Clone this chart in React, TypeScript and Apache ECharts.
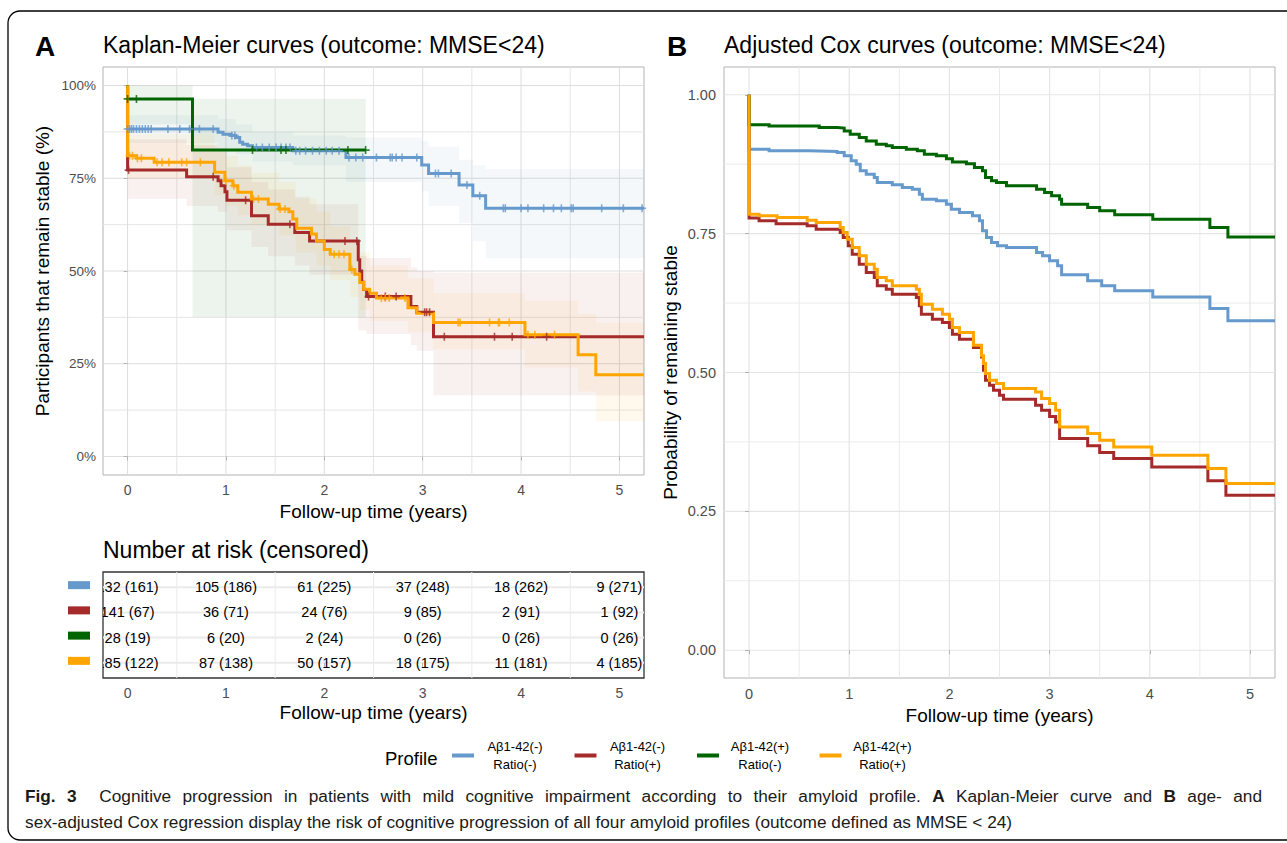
import React, { useEffect, useRef } from "react";
import * as echarts from "echarts";

const FONT = "'Liberation Sans', Arial, Helvetica, sans-serif";

// ---------- categories ----------
const profileNames = ["Aβ1-42(-) Ratio(-)", "Aβ1-42(-) Ratio(+)", "Aβ1-42(+) Ratio(-)", "Aβ1-42(+) Ratio(+)"];
const profileColors = ["#6699CC", "#A52A2A", "#006400", "#FFA500"];

// ---------- tick values ----------
const yearTicks = [0, 1, 2, 3, 4, 5];
const yearMinor = [0.5, 1.5, 2.5, 3.5, 4.5];
const kmPctTicks = [0, 25, 50, 75, 100];
const kmPctMinor = [12.5, 37.5, 62.5, 87.5];
const coxTicks = [0, 0.25, 0.5, 0.75, 1];
const coxMinor = [0.125, 0.375, 0.625, 0.875];

// ---------- Panel A: Kaplan-Meier survival (%) [time, percent] ----------
const kmBlue = [[0, 100], [0, 88.3], [0.92, 87.4], [0.97, 86.9], [1.05, 86.5], [1.1, 86.0], [1.14, 84.7], [1.17, 84.2], [1.22, 83.8], [1.27, 83.3], [1.68, 82.4], [2.22, 80.6], [2.99, 78.6], [3.06, 76.3], [3.37, 73.2], [3.51, 70.3], [3.64, 66.9], [5.25, 66.9]];
const kmRed = [[0, 100], [0, 77.2], [0.6, 75.4], [0.92, 74.3], [0.95, 73.0], [0.99, 71.4], [1.01, 69.1], [1.26, 64.9], [1.43, 62.6], [1.7, 60.4], [1.85, 58.1], [2.345, 53.0], [2.36, 50.0], [2.38, 47.0], [2.4, 45.0], [2.43, 43.1], [2.88, 40.4], [2.94, 38.9], [3.11, 32.3], [5.25, 32.3]];
const kmGreen = [[0, 100], [0, 96.4], [0.66, 82.6], [2.42, 82.6]];
const kmOrange = [[0, 100], [0, 81.1], [0.09, 80.4], [0.27, 79.3], [0.885, 76.6], [0.99, 74.3], [1.07, 73.0], [1.12, 71.2], [1.26, 69.4], [1.43, 68.0], [1.54, 66.7], [1.64, 66.0], [1.68, 64.0], [1.72, 61.5], [1.87, 60.0], [1.92, 58.1], [2.0, 55.8], [2.06, 54.5], [2.26, 50.4], [2.31, 49.1], [2.36, 46.9], [2.4, 45.1], [2.46, 44.0], [2.53, 42.7], [2.85, 40.1], [2.94, 38.6], [3.11, 36.1], [4.04, 32.8], [4.58, 27.4], [4.76, 22.0], [5.25, 22.0]];

// censoring times (years)
const cenBlue = [0, 0.02, 0.04, 0.06, 0.09, 0.12, 0.15, 0.18, 0.21, 0.24, 0.41, 0.53, 0.63, 0.73, 0.87, 1.06, 1.09, 1.31, 1.37, 1.44, 1.51, 1.56, 1.61, 1.65, 1.71, 1.75, 1.81, 1.88, 1.95, 2.02, 2.08, 2.15, 2.25, 2.32, 2.39, 2.53, 2.67, 2.69, 2.73, 2.79, 2.94, 3.13, 3.16, 3.29, 3.45, 3.58, 3.82, 3.84, 4.0, 4.07, 4.23, 4.33, 4.41, 4.51, 4.53, 4.82, 5.04, 5.23];
const cenRed = [0.01, 0.87, 1.2, 1.65, 2.21, 2.33, 2.45, 2.62, 2.73, 3.02, 3.04, 3.07, 3.22, 3.73, 3.91, 4.26];
const cenGreen = [0, 0.09, 1.27, 1.56, 1.61, 2.24, 2.42];
const cenOrange = [0.02, 0.05, 0.1, 0.14, 0.3, 0.35, 0.42, 0.55, 0.6, 0.74, 1.0, 1.08, 1.28, 1.33, 1.55, 1.6, 2.1, 2.15, 2.2, 2.28, 2.58, 2.62, 2.66, 2.82, 3.36, 3.38, 3.68, 3.77, 3.78, 3.88, 4.07, 4.14, 4.34];

// 95% CI bands [time, lower, upper]
const ciBlue = [[0, 84.5, 92], [0.92, 83, 91], [1.1, 81.5, 89.5], [1.27, 79.5, 87.5], [1.68, 78.5, 86.5], [2.22, 74, 86], [2.99, 71.5, 85], [3.06, 67.5, 83.5], [3.37, 63, 80], [3.51, 58, 78.5], [3.64, 53.5, 77.5], [5.25, 53.5, 77.5]];
const ciRed = [[0, 69.5, 85.5], [0.6, 67.5, 84], [0.92, 66, 83], [1.01, 61, 78], [1.26, 56.5, 74], [1.43, 54, 72], [1.7, 51.5, 70], [1.85, 49, 68], [2.345, 34, 54], [2.43, 33, 53.5], [2.88, 30, 51], [2.94, 28.5, 50], [3.11, 16.5, 49.5], [5.25, 16.5, 49.5]];
const ciGreen = [[0, 89.5, 100], [0.66, 37.5, 96.4], [2.42, 37.5, 96.4]];
const ciOrange = [[0, 75, 87], [0.885, 70.5, 83], [1.0, 67.5, 81], [1.12, 65, 78.5], [1.26, 62.5, 76.5], [1.54, 59.5, 74], [1.71, 55, 69.5], [1.92, 51.5, 66], [2.06, 47.5, 62], [2.26, 43, 58], [2.36, 39.5, 55], [2.46, 36.5, 51.5], [2.85, 33.5, 48], [3.11, 29, 44], [4.04, 24, 42], [4.58, 17.5, 38.5], [4.76, 9.5, 36], [5.25, 9.5, 36]];

// ---------- Number at risk (censored) ----------
const riskTimes = [0, 1, 2, 3, 4, 5];
const atRiskBlue = [132, 105, 61, 37, 18, 9];
const censBlue = [161, 186, 225, 248, 262, 271];
const atRiskRed = [141, 36, 24, 9, 2, 1];
const censRed = [67, 71, 76, 85, 91, 92];
const atRiskGreen = [28, 6, 2, 0, 0, 0];
const censGreen = [19, 20, 24, 26, 26, 26];
const atRiskOrange = [185, 87, 50, 18, 11, 4];
const censOrange = [122, 138, 157, 175, 181, 185];

// ---------- Panel B: adjusted Cox curves [time, probability] ----------
const coxBlue = [[0, 1], [0, 0.902], [0.2, 0.899], [0.6, 0.898], [0.88, 0.896], [0.95, 0.89], [1.02, 0.881], [1.07, 0.875], [1.11, 0.863], [1.17, 0.857], [1.25, 0.851], [1.28, 0.842], [1.43, 0.838], [1.53, 0.833], [1.63, 0.83], [1.7, 0.821], [1.73, 0.812], [1.87, 0.809], [1.97, 0.803], [2.02, 0.794], [2.1, 0.788], [2.23, 0.782], [2.3, 0.773], [2.33, 0.755], [2.37, 0.743], [2.42, 0.734], [2.48, 0.728], [2.57, 0.725], [2.87, 0.716], [2.93, 0.71], [3.0, 0.701], [3.08, 0.692], [3.12, 0.676], [3.38, 0.665], [3.52, 0.656], [3.65, 0.647], [4.03, 0.636], [4.6, 0.615], [4.78, 0.593], [5.25, 0.593]];
const coxRed = [[0, 1], [0, 0.778], [0.1, 0.773], [0.27, 0.768], [0.58, 0.764], [0.67, 0.758], [0.91, 0.752], [0.94, 0.743], [0.99, 0.728], [1.03, 0.713], [1.1, 0.695], [1.17, 0.68], [1.25, 0.671], [1.28, 0.656], [1.37, 0.65], [1.43, 0.641], [1.67, 0.635], [1.7, 0.62], [1.72, 0.605], [1.83, 0.596], [1.93, 0.59], [2.0, 0.581], [2.03, 0.569], [2.1, 0.56], [2.24, 0.545], [2.32, 0.528], [2.34, 0.504], [2.36, 0.486], [2.4, 0.477], [2.44, 0.468], [2.5, 0.459], [2.54, 0.452], [2.86, 0.441], [2.92, 0.432], [3.0, 0.421], [3.06, 0.411], [3.1, 0.381], [3.38, 0.368], [3.5, 0.356], [3.64, 0.345], [4.02, 0.33], [4.58, 0.305], [4.76, 0.279], [5.25, 0.279]];
const coxGreen = [[0, 1], [0, 0.946], [0.2, 0.944], [0.7, 0.941], [0.88, 0.94], [0.95, 0.935], [1.01, 0.929], [1.1, 0.923], [1.17, 0.917], [1.27, 0.911], [1.37, 0.908], [1.43, 0.905], [1.57, 0.902], [1.68, 0.899], [1.75, 0.893], [1.87, 0.89], [1.97, 0.885], [2.03, 0.879], [2.17, 0.876], [2.25, 0.869], [2.33, 0.863], [2.36, 0.851], [2.42, 0.845], [2.47, 0.842], [2.57, 0.836], [2.87, 0.83], [2.95, 0.824], [3.02, 0.818], [3.1, 0.812], [3.12, 0.803], [3.38, 0.797], [3.5, 0.791], [3.65, 0.784], [4.03, 0.776], [4.6, 0.761], [4.78, 0.744], [5.25, 0.744]];
const coxOrange = [[0, 1], [0, 0.785], [0.1, 0.782], [0.28, 0.779], [0.58, 0.774], [0.67, 0.77], [0.91, 0.761], [0.94, 0.752], [0.98, 0.74], [1.03, 0.725], [1.1, 0.71], [1.17, 0.695], [1.25, 0.686], [1.28, 0.671], [1.37, 0.665], [1.43, 0.656], [1.67, 0.65], [1.7, 0.641], [1.72, 0.623], [1.83, 0.614], [1.93, 0.605], [2.0, 0.596], [2.03, 0.581], [2.1, 0.572], [2.24, 0.549], [2.32, 0.53], [2.34, 0.516], [2.36, 0.498], [2.4, 0.486], [2.47, 0.48], [2.54, 0.471], [2.86, 0.465], [2.92, 0.453], [3.0, 0.444], [3.06, 0.432], [3.1, 0.402], [3.38, 0.39], [3.5, 0.378], [3.64, 0.366], [4.02, 0.351], [4.58, 0.327], [4.76, 0.3], [5.25, 0.3]];

// ---------- texts ----------
const titleA = "Kaplan-Meier curves (outcome: MMSE<24)";
const titleB = "Adjusted Cox curves (outcome: MMSE<24)";
const riskTitle = "Number at risk (censored)";
const xTitle = "Follow-up time (years)";
const yTitleA = "Participants that remain stable (%)";
const yTitleB = "Probability of remaining stable";
const legendTitle = "Profile";
// caption line 1: [text, bold]
const captionLine1Parts: [string, boolean][] = [
  ["Fig. 3", true],
  ["Cognitive progression in patients with mild cognitive impairment according to their amyloid profile.", false],
  ["A", true],
  ["Kaplan-Meier curve and", false],
  ["B", true],
  ["age- and", false],
];
const captionLine2 = "sex-adjusted Cox regression display the risk of cognitive progression of all four amyloid profiles (outcome defined as MMSE < 24)";

function rgba(hex: string, a: number) {
  const n = parseInt(hex.slice(1), 16);
  return `rgba(${(n >> 16) & 255},${(n >> 8) & 255},${n & 255},${a})`;
}

function stepValue(curve: number[][], t: number) {
  let v = curve[0][1];
  for (const p of curve) if (p[0] <= t) v = p[1];
  return v;
}

function bandRects(ci: number[][]) {
  const out: number[][] = [];
  for (let i = 0; i < ci.length - 1; i++) out.push([ci[i][0], ci[i + 1][0], ci[i][1], ci[i][2]]);
  return out;
}

let measureCtx: CanvasRenderingContext2D | null = null;
function measure(text: string, font: string) {
  if (!measureCtx) measureCtx = document.createElement("canvas").getContext("2d");
  measureCtx!.font = font;
  return measureCtx!.measureText(text).width;
}

// caption layout: fit line 2 to its width and justify line 1 to the full width
function buildCaption() {
  const probe = "Cognitive progression abcdefghij";
  const narrowOK = measure(probe, "20px 'Liberation Sans Narrow', monospace") !== measure(probe, "20px monospace");
  const family = narrowOK ? "'Liberation Sans Narrow', 'Liberation Sans', sans-serif" : "'Liberation Sans', sans-serif";
  const w2 = measure(captionLine2, `20px ${family}`);
  const size = Math.min(21, (20 * 988) / w2);
  const normalFont = `${size}px ${family}`;
  const boldFont = `bold ${size}px ${family}`;
  const words: { w: string; b: boolean; gapAfter: number }[] = [];
  captionLine1Parts.forEach(([text, bold], pi) => {
    const ws = text.split(" ");
    ws.forEach((w, wi) => {
      const last = wi === ws.length - 1;
      words.push({ w, b: bold, gapAfter: last ? (pi === 0 ? 2 : pi === captionLine1Parts.length - 1 ? 0 : 1) : 1 });
    });
  });
  let sum = 0;
  let gaps = 0;
  words.forEach((o) => {
    sum += measure(o.w, o.b ? boldFont : normalFont);
    gaps += o.gapAfter;
  });
  const gapW = Math.max(2, (1237 - sum) / gaps);
  const esc = (s: string) => s.replace(/[{}|]/g, "");
  let rich1 = "";
  words.forEach((o) => {
    rich1 += `{${o.b ? "b" : "n"}|${esc(o.w)}}`;
    if (o.gapAfter === 1) rich1 += "{g|\u00a0}";
    if (o.gapAfter === 2) rich1 += "{g2|\u00a0}";
  });
  const tok = (bold: boolean) => ({ fontSize: size, fontFamily: family, fontWeight: bold ? "bold" : "normal", fill: "#1a1a1a", color: "#1a1a1a" });
  return {
    size,
    family,
    rich1,
    rich: {
      n: tok(false),
      b: tok(true),
      g: { ...tok(false), width: gapW },
      g2: { ...tok(false), width: gapW * 2 },
    },
  };
}

type GL = { dir: "v" | "h"; v: number; minor: boolean };

function gridSeries(idx: number, lines: GL[], xMid: number, yMid: number, major: string, minor: string, w: number, wMinor: number) {
  return {
    type: "custom",
    xAxisIndex: idx,
    yAxisIndex: idx,
    silent: true,
    z: 0,
    clip: false,
    data: lines.map((l) => (l.dir === "v" ? [l.v, yMid] : [xMid, l.v])),
    encode: { x: 0, y: 1 },
    renderItem: (params: any, api: any) => {
      const l = lines[params.dataIndex];
      const cs = params.coordSys;
      const style = { stroke: l.minor ? minor : major, lineWidth: l.minor ? wMinor : w };
      if (l.dir === "v") {
        const x = api.coord([l.v, yMid])[0];
        return { type: "line", shape: { x1: x, y1: cs.y, x2: x, y2: cs.y + cs.height }, style };
      }
      const y = api.coord([xMid, l.v])[1];
      return { type: "line", shape: { x1: cs.x, y1: y, x2: cs.x + cs.width, y2: y }, style };
    },
  };
}

function buildOption() {
  const kmCurves = [kmBlue, kmRed, kmGreen, kmOrange];
  const cens = [cenBlue, cenRed, cenGreen, cenOrange];
  const cis = [ciBlue, ciRed, ciGreen, ciOrange];
  const coxCurves = [coxBlue, coxRed, coxGreen, coxOrange];
  const riskRows = [
    { row: 3, atRisk: atRiskBlue, cens: censBlue, color: profileColors[0] },
    { row: 2, atRisk: atRiskRed, cens: censRed, color: profileColors[1] },
    { row: 1, atRisk: atRiskGreen, cens: censGreen, color: profileColors[2] },
    { row: 0, atRisk: atRiskOrange, cens: censOrange, color: profileColors[3] },
  ];
  const riskCells = riskRows.flatMap((r) => riskTimes.map((t, j) => ({ t, row: r.row, label: `${r.atRisk[j]} (${r.cens[j]})` })));

  const kmGrid: GL[] = [
    ...yearMinor.map((v) => ({ dir: "v" as const, v, minor: true })),
    ...kmPctMinor.map((v) => ({ dir: "h" as const, v, minor: true })),
    ...yearTicks.map((v) => ({ dir: "v" as const, v, minor: false })),
    ...kmPctTicks.map((v) => ({ dir: "h" as const, v, minor: false })),
  ];
  const coxGrid: GL[] = [
    ...yearMinor.map((v) => ({ dir: "v" as const, v, minor: true })),
    ...coxMinor.map((v) => ({ dir: "h" as const, v, minor: true })),
    ...yearTicks.map((v) => ({ dir: "v" as const, v, minor: false })),
    ...coxTicks.map((v) => ({ dir: "h" as const, v, minor: false })),
  ];
  const riskGrid: GL[] = [
    ...yearMinor.map((v) => ({ dir: "v" as const, v, minor: true })),
    ...riskRows.map((r) => ({ dir: "h" as const, v: r.row, minor: false })),
  ];

  const tickStyle = { show: true, length: 4, lineStyle: { color: "#B3B3B3", width: 1 } };
  const labelBase = { color: "#4D4D4D", fontFamily: FONT };
  const nameStyle = { color: "#000", fontSize: 19, fontFamily: FONT };

  const series: any[] = [];
  series.push(gridSeries(0, kmGrid, 2.5, 50, "#DDDDDD", "#E6E6E6", 1, 1));
  cis.forEach((ci, i) => {
    const rects = bandRects(ci);
    series.push({
      type: "custom",
      name: "ci" + i,
      xAxisIndex: 0,
      yAxisIndex: 0,
      silent: true,
      z: 1,
      clip: true,
      data: rects,
      encode: { x: [0, 1], y: [2, 3] },
      renderItem: (params: any, api: any) => {
        const p0 = api.coord([api.value(0), api.value(3)]);
        const p1 = api.coord([api.value(1), api.value(2)]);
        return {
          type: "rect",
          shape: { x: p0[0], y: p0[1], width: p1[0] - p0[0], height: p1[1] - p0[1] },
          style: { fill: rgba(profileColors[i], 0.07) },
        };
      },
    });
  });
  kmCurves.forEach((c, i) => {
    series.push({
      type: "line",
      name: profileNames[i],
      xAxisIndex: 0,
      yAxisIndex: 0,
      step: "end",
      data: c,
      showSymbol: false,
      symbol: "none",
      z: 2,
      silent: true,
      lineStyle: { color: profileColors[i], width: 3, join: "miter" },
      itemStyle: { color: profileColors[i] },
    });
  });
  cens.forEach((ts, i) => {
    series.push({
      type: "scatter",
      name: profileNames[i],
      xAxisIndex: 0,
      yAxisIndex: 0,
      z: 3,
      silent: true,
      symbol: "path://M4,0H6V4H10V6H6V10H4V6H0V4H4Z",
      symbolSize: 8,
      itemStyle: { color: profileColors[i] },
      data: ts.map((t) => [t, stepValue(kmCurves[i], t)]),
    });
  });

  series.push(gridSeries(1, riskGrid, 2.5, 1.5, "#EBEBEB", "#EBEBEB", 2, 1));
  series.push({
    type: "custom",
    name: "riskText",
    xAxisIndex: 1,
    yAxisIndex: 1,
    silent: true,
    z: 3,
    clip: true,
    data: riskCells.map((c) => [c.t, c.row]),
    encode: { x: 0, y: 1 },
    renderItem: (params: any, api: any) => {
      const c = riskCells[params.dataIndex];
      const p = api.coord([c.t, c.row]);
      return {
        type: "text",
        x: p[0],
        y: p[1],
        style: {
          text: c.label,
          fill: "#000",
          fontSize: 14.5,
          fontFamily: FONT,
          align: "center",
          verticalAlign: "middle",
          textAlign: "center",
          textVerticalAlign: "middle",
        },
      };
    },
  });
  series.push({
    type: "custom",
    name: "riskSwatch",
    xAxisIndex: 1,
    yAxisIndex: 1,
    silent: true,
    z: 3,
    clip: false,
    data: riskRows.map((r) => [-0.25, r.row]),
    encode: { x: 0, y: 1 },
    renderItem: (params: any, api: any) => {
      const r = riskRows[params.dataIndex];
      const p = api.coord([-0.25, r.row]);
      return { type: "rect", shape: { x: p[0] - 35, y: p[1] - 6, width: 22, height: 8 }, style: { fill: r.color } };
    },
  });

  series.push(gridSeries(2, coxGrid, 2.5, 0.5, "#E5E5E5", "#EBEBEB", 1.2, 1));
  coxCurves.forEach((c, i) => {
    series.push({
      type: "line",
      name: profileNames[i],
      xAxisIndex: 2,
      yAxisIndex: 2,
      step: "end",
      data: c,
      showSymbol: false,
      symbol: "none",
      z: 2,
      silent: true,
      lineStyle: { color: profileColors[i], width: 3, join: "miter" },
      itemStyle: { color: profileColors[i] },
    });
  });

  const cap = buildCaption();
  const mid = { verticalAlign: "middle", textVerticalAlign: "middle" };
  const graphic: any[] = [
    { type: "rect", shape: { x: 8, y: 11, width: 1300, height: 829, r: 12 }, style: { fill: "none", stroke: "#000", lineWidth: 1.3 }, z: 100 },
    { type: "text", x: 35, y: 46, style: { text: "A", fontSize: 28, fontWeight: "bold", fontFamily: FONT, fill: "#000", ...mid } },
    { type: "text", x: 103, y: 45, style: { text: titleA, fontSize: 23, fontFamily: FONT, fill: "#000", ...mid } },
    { type: "text", x: 667, y: 46, style: { text: "B", fontSize: 28, fontWeight: "bold", fontFamily: FONT, fill: "#000", ...mid } },
    { type: "text", x: 724, y: 45, style: { text: titleB, fontSize: 23, fontFamily: FONT, fill: "#000", ...mid } },
    { type: "text", x: 103, y: 550, style: { text: riskTitle, fontSize: 23, fontFamily: FONT, fill: "#000", ...mid } },
    { type: "text", x: 385, y: 758, style: { text: legendTitle, fontSize: 18.5, fontFamily: FONT, fill: "#000", ...mid } },
    { type: "text", x: 25, y: 796, style: { text: cap.rich1, fontSize: cap.size, fontFamily: cap.family, fill: "#1a1a1a", rich: cap.rich, ...mid } },
    { type: "text", x: 25, y: 822, style: { text: captionLine2, fontSize: cap.size, fontFamily: cap.family, fill: "#1a1a1a", ...mid } },
  ];

  return {
    animation: false,
    backgroundColor: "#fff",
    textStyle: { fontFamily: FONT },
    grid: [
      { left: 103, top: 67, width: 541, height: 408, show: true, borderColor: "#B3B3B3", borderWidth: 1, backgroundColor: "transparent", outerBoundsMode: "none", containLabel: false },
      { left: 103, top: 572, width: 541, height: 106, show: true, borderColor: "#333333", borderWidth: 1.3, backgroundColor: "transparent", outerBoundsMode: "none", containLabel: false },
      { left: 724, top: 67, width: 551, height: 611, show: true, borderColor: "#B3B3B3", borderWidth: 1, backgroundColor: "transparent", outerBoundsMode: "none", containLabel: false },
    ],
    xAxis: [
      {
        gridIndex: 0, type: "value", min: -0.25, max: 5.25,
        splitLine: { show: false }, axisLine: { show: false },
        axisTick: { ...tickStyle, customValues: yearTicks },
        axisLabel: { ...labelBase, fontSize: 14, margin: 8, customValues: yearTicks },
        name: xTitle, nameLocation: "middle", nameGap: 26.5, nameTextStyle: nameStyle,
      },
      {
        gridIndex: 1, type: "value", min: -0.25, max: 5.25,
        splitLine: { show: false }, axisLine: { show: false },
        axisTick: { ...tickStyle, customValues: yearTicks },
        axisLabel: { ...labelBase, fontSize: 14, margin: 8, customValues: yearTicks },
        name: xTitle, nameLocation: "middle", nameGap: 24.5, nameTextStyle: nameStyle,
      },
      {
        gridIndex: 2, type: "value", min: -0.25, max: 5.25,
        splitLine: { show: false }, axisLine: { show: false },
        axisTick: { ...tickStyle, customValues: yearTicks },
        axisLabel: { ...labelBase, fontSize: 14.5, margin: 8, customValues: yearTicks },
        name: xTitle, nameLocation: "middle", nameGap: 25.5, nameTextStyle: nameStyle,
      },
    ],
    yAxis: [
      {
        gridIndex: 0, type: "value", min: -5, max: 105,
        splitLine: { show: false }, axisLine: { show: false },
        axisTick: { ...tickStyle, customValues: kmPctTicks },
        axisLabel: { ...labelBase, fontSize: 13.5, margin: 7, customValues: kmPctTicks, formatter: (v: number) => `${v}%` },
        name: yTitleA, nameLocation: "middle", nameGap: 51.5, nameTextStyle: nameStyle,
      },
      {
        gridIndex: 1, type: "value", min: -0.6, max: 3.6,
        splitLine: { show: false }, axisLine: { show: false }, axisTick: { show: false }, axisLabel: { show: false },
      },
      {
        gridIndex: 2, type: "value", min: -0.05, max: 1.05,
        splitLine: { show: false }, axisLine: { show: false },
        axisTick: { ...tickStyle, customValues: coxTicks },
        axisLabel: { ...labelBase, fontSize: 14.5, margin: 8, customValues: coxTicks, formatter: (v: number) => v.toFixed(2) },
        name: yTitleB, nameLocation: "middle", nameGap: 44.5, nameTextStyle: nameStyle,
      },
    ],
    legend: {
      left: 452,
      top: 740,
      padding: 0,
      orient: "horizontal",
      itemWidth: 22,
      itemHeight: 4,
      itemGap: 23.5,
      icon: "rect",
      selectedMode: false,
      data: profileNames.map((n, i) => ({ name: n, itemStyle: { color: profileColors[i] } })),
      formatter: (name: string) => {
        const parts = name.split(" ");
        return `{t|${parts[0]}}\n{t|${parts[1]}}`;
      },
      textStyle: { rich: { t: { fontSize: 13, fontFamily: FONT, lineHeight: 18, width: 72, align: "center", color: "#000" } } },
    },
    graphic,
    series,
  };
}

export default function App() {
  const ref = useRef<HTMLDivElement>(null);
  useEffect(() => {
    const chart = echarts.init(ref.current as HTMLDivElement, null, { renderer: "svg" });
    chart.setOption(buildOption() as any);
    return () => chart.dispose();
  }, []);
  return <div ref={ref} style={{ position: "absolute", left: 0, top: 0, width: 1287, height: 843, background: "#fff" }} />;
}
